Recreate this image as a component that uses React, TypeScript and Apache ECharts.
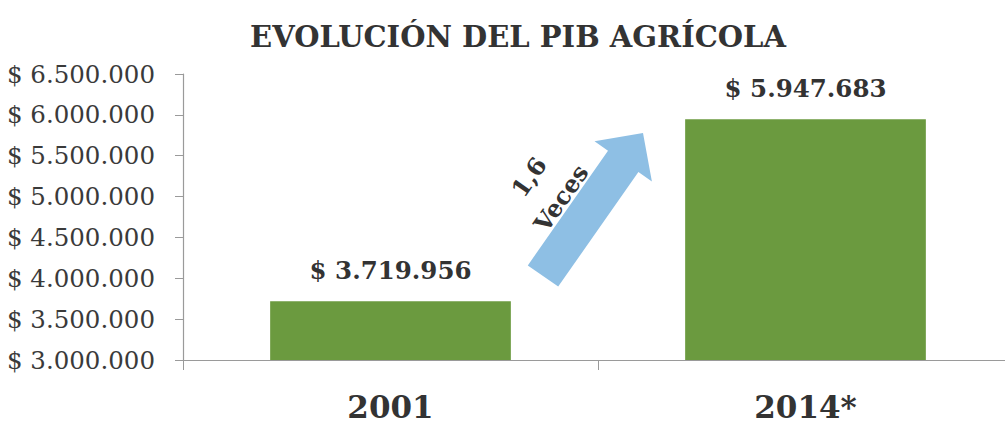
import React, { useEffect, useRef } from "react";
import * as echarts from "echarts";

const categories = ["2001", "2014*"];
const values = [3719956, 5947683];
const valueLabels = ["$ 3.719.956", "$ 5.947.683"];
const yMin = 3000000;
const yMax = 6500000;
const yStep = 500000;
const titleText = "EVOLUCIÓN DEL PIB AGRÍCOLA";
const arrowTexts = ["1,6", "Veces"];

function fmt(v: number): string {
  const s = Math.round(v).toString().replace(/\B(?=(\d{3})+(?!\d))/g, ".");
  return "$ " + s;
}

export default function App() {
  const ref = useRef<HTMLDivElement>(null);
  useEffect(() => {
    if (!ref.current) return;
    const chart = echarts.init(ref.current, undefined, { renderer: "svg" });
    const serif = "DejaVu Serif";
    const rot = (55 * Math.PI) / 180;
    chart.setOption({
      animation: false,
      backgroundColor: "#ffffff",
      title: {
        text: titleText,
        left: 513,
        top: 17,
        textAlign: "center",
        textStyle: { fontFamily: serif, fontWeight: "bold", fontSize: 29, color: "#333333" },
      },
      grid: { left: 183, top: 74, width: 830, height: 286 },
      xAxis: {
        type: "category",
        data: categories,
        axisLine: { lineStyle: { color: "#9a9a9a", width: 1.2 } },
        axisTick: { show: true, length: 10, lineStyle: { color: "#9a9a9a" } },
        axisLabel: {
          fontFamily: serif,
          fontWeight: "bold",
          fontSize: 31,
          color: "#333333",
          margin: 31,
        },
      },
      yAxis: {
        type: "value",
        min: yMin,
        max: yMax,
        interval: yStep,
        splitLine: { show: false },
        axisLine: { show: true, lineStyle: { color: "#9a9a9a", width: 1.2 } },
        axisTick: { show: true, length: 8, lineStyle: { color: "#9a9a9a" } },
        axisLabel: {
          fontFamily: serif,
          fontSize: 24.5,
          color: "#3a3a3a",
          margin: 28,
          formatter: (v: number) => fmt(v),
        },
      },
      series: [
        {
          type: "bar",
          data: values,
          barWidth: "58%",
          itemStyle: { color: "#6b9a3f" },
          label: {
            show: true,
            position: "top",
            distance: 18,
            fontFamily: serif,
            fontWeight: "bold",
            fontSize: 24.5,
            color: "#333333",
            formatter: (p: any) => valueLabels[p.dataIndex],
          },
        },
      ],
      graphic: [
        {
          type: "polygon",
          shape: {
            points: [
              [527.8, 265.4],
              [608, 150.7],
              [594.5, 141.2],
              [643, 133],
              [651.9, 181.4],
              [638.4, 171.9],
              [558.2, 286.6],
            ],
          },
          style: { fill: "#8ebfe4" },
        },
        {
          type: "text",
          x: 529,
          y: 177,
          rotation: rot,
          style: {
            text: arrowTexts[0],
            fontFamily: serif,
            fontWeight: "bold",
            fontSize: 24,
            fill: "#333333",
            align: "center",
            verticalAlign: "middle",
          },
        },
        {
          type: "text",
          x: 561,
          y: 198,
          rotation: rot,
          style: {
            text: arrowTexts[1],
            fontFamily: serif,
            fontWeight: "bold",
            fontSize: 24,
            fill: "#333333",
            align: "center",
            verticalAlign: "middle",
          },
        },
      ],
    });
    return () => chart.dispose();
  }, []);
  return (
    <div
      ref={ref}
      style={{ position: "fixed", left: 0, top: 0, width: 1020, height: 426 }}
    />
  );
}
